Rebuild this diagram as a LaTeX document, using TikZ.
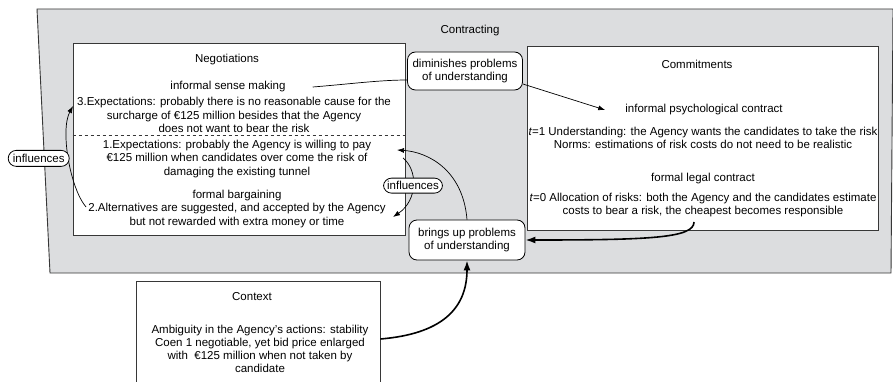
\documentclass[tikz,border=0pt]{standalone}
\usepackage{fontspec}
\setmainfont{Liberation Sans}
\usetikzlibrary{arrows.meta}

\definecolor{contractgray}{RGB}{220,221,223}
\definecolor{edgegray}{RGB}{55,55,55}

\begin{document}
\begin{tikzpicture}[
  x=1pt, y=-1pt,
  every node/.style={font=\fontsize{11.5}{13.2}\selectfont, inner sep=0pt},
  panel/.style={draw=edgegray, line width=0.9pt, fill=white},
  txt/.style={align=center},
  lbl/.style={draw=black, fill=white, rounded corners=8pt, line width=0.8pt, align=center, inner xsep=3pt, inner ysep=2pt},
  arr/.style={-{Latex[length=7pt,width=5pt]}, line width=0.7pt},
  bigarr/.style={-{Latex[length=10pt,width=7pt]}, line width=1.6pt}
]
\useasboundingbox (0,0) rectangle (893,382);
% contracting area
\filldraw[fill=contractgray, draw=edgegray, line width=0.9pt]
  (37,9) -- (893,9) -- (891,273) -- (50,273) -- cycle;
\node (contr) at (470,31) {Contracting};

% the three boxes
\node[panel, minimum width=332pt, minimum height=192pt] (neg) at (239,139) {};
\node[panel, minimum width=351pt, minimum height=184pt] (com) at (702.5,138) {};
\node[panel, minimum width=244pt, minimum height=130pt] (ctx) at (258,346) {};
\draw[dashed, edgegray, line width=0.7pt] (neg.west |- 0,135) -- (neg.east |- 0,135);

% negotiations
\node (negtitle) at (227,60) {Negotiations};
\node (negsense) at (228,87) {informal sense making};
\node[txt] (negthree) at (234,115) {3.Expectations: probably there is no reasonable cause for the\\surcharge of €125 million besides that the Agency\\does not want to bear the risk};
\node[txt] (negone) at (237,159) {1.Expectations: probably the Agency is willing to pay\\€125 million when candidates over come the risk of\\damaging the existing tunnel};
\node[txt] (negbarg) at (237,209) {formal bargaining\\2.Alternatives are suggested, and accepted by the Agency\\but not rewarded with extra money or time};

% commitments
\node (comtitle) at (697,64) {Commitments};
\node (compsy) at (704,110) {informal psychological contract};
\node[txt] (comnorm) at (703,138) {\textit{t}=1 Understanding: the Agency wants the candidates to take the risk\\Norms: estimations of risk costs do not need to be realistic};
\node (comlegal) at (703,179) {formal legal contract};
\node[txt] (comalloc) at (703,205) {\textit{t}=0 Allocation of risks: both the Agency and the candidates estimate\\costs to bear a risk, the cheapest becomes responsible};

% context
\node (ctxtitle) at (252,297) {Context};
\node[txt] (ctxbody) at (260,349) {Ambiguity in the Agency's actions: stability\\Coen 1 negotiable, yet bid price enlarged\\with \ €125 million when not taken by\\candidate};

% mediating labels
\node[lbl, minimum width=115pt, minimum height=38pt] (dimin) at (465,71) {diminishes problems\\of understanding};
\node[lbl, minimum width=116pt, minimum height=40pt] (brings) at (467,240) {brings up problems\\of understanding};

% connectors
\coordinate (senseTail) at ([xshift=27pt]negsense.east);
\draw[line width=0.7pt] (senseTail) .. controls (350,84) and (380,80) .. ([yshift=-9pt]dimin.west);
\draw[arr] ([yshift=-13pt]dimin.east) -- ([xshift=-20pt]compsy.west);

\coordinate (altTail) at (86,207);
\coordinate (threeHead) at (73,106);
\draw[arr] (altTail) .. controls (70,188) and (60,130) ..
  node[lbl, pos=0.5, anchor=east, xshift=1pt, minimum width=61pt, minimum height=16pt] {influences} (threeHead);

\coordinate (oneTail) at (403,158);
\coordinate (altHead) at (393,217);
\draw[arr] (oneTail) .. controls (418,170) and (418,200) ..
  node[lbl, pos=0.5, minimum width=59pt, minimum height=15pt] {influences} (altHead);

\coordinate (payHead) at (397,150);
\draw[arr] (brings.north) .. controls (463,170) and (428,152) .. (payHead);

\coordinate (allocTail) at (694,222);
\draw[bigarr] (allocTail) .. controls (694,238) and (650,240) .. (brings.east);
\draw[bigarr] ([yshift=7pt]ctx.east) .. controls (440,334) and (467,310) .. (brings.south);
\end{tikzpicture}
\end{document}
